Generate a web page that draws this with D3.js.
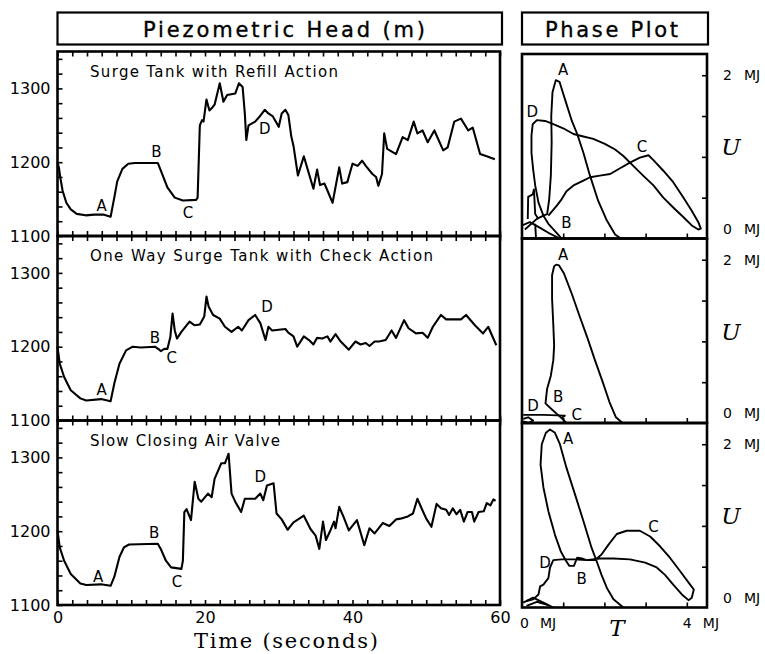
<!DOCTYPE html>
<html><head><meta charset="utf-8">
<script src="https://cdn.jsdelivr.net/npm/d3@7"></script>
<style>body{margin:0;background:#fff}svg{display:block}</style>
</head><body>
<script>
// ---------- DATA ----------
const panelTitles = ["Surge Tank with Refill Action","One Way Surge Tank with Check Action","Slow Closing Air Valve"];
const timeTicks = [0,20,40,60];
const headTicks = [1100,1200,1300];
const headRefill = [[0,1200],[0.2,1192],[0.4,1178],[0.7,1161],[1.2,1145],[1.8,1136],[2.6,1130],[3.8,1128],[5.0,1129],[6.2,1129],[7.2,1126],[7.7,1152],[8.1,1174],[8.8,1191],[9.6,1198],[10.5,1199],[13.6,1199],[14.0,1189],[14.9,1166],[15.9,1152],[17.0,1148],[18.8,1149],[19.0,1152],[19.3,1250],[19.6,1257],[19.8,1255],[20.2,1285],[20.6,1270],[20.9,1273],[21.3,1278],[22.0,1307],[22.5,1282],[23.0,1291],[24.1,1293],[24.6,1307],[25.1,1302],[25.4,1266],[25.6,1230],[25.9,1250],[26.8,1255],[27.5,1263],[28.1,1271],[28.6,1266],[29.2,1262],[30.0,1248],[30.4,1266],[30.9,1271],[31.3,1264],[31.7,1235],[32.0,1222],[32.6,1182],[33.0,1195],[33.4,1208],[33.9,1191],[34.7,1164],[35.2,1190],[35.6,1169],[36.2,1171],[36.5,1164],[37.3,1145],[38.2,1193],[38.6,1171],[39.3,1173],[40.0,1198],[40.7,1195],[41.3,1202],[41.8,1195],[42.7,1184],[43.2,1180],[43.5,1168],[44.0,1184],[44.3,1239],[44.7,1218],[45.9,1211],[46.8,1234],[47.5,1230],[48.3,1255],[48.8,1239],[49.5,1243],[50.2,1227],[51.1,1243],[52.3,1216],[52.9,1220],[53.8,1255],[54.7,1259],[55.7,1243],[56.3,1247],[57.3,1211],[58.2,1208],[59.3,1204]];
const headCheck = [[0,1200],[0.3,1177],[0.9,1159],[1.8,1141],[3.1,1130],[3.9,1127],[5.9,1129],[7.2,1126],[7.7,1150],[8.4,1177],[9.3,1195],[10.2,1200],[11.3,1199],[13.2,1200],[13.8,1196],[14.0,1194],[14.5,1197],[14.9,1197],[15.3,1213],[15.6,1245],[15.9,1222],[16.2,1211],[16.8,1220],[17.9,1234],[18.6,1229],[19.3,1230],[19.9,1241],[20.2,1268],[20.5,1254],[21.1,1243],[22.0,1238],[22.7,1227],[23.6,1220],[24.5,1227],[25.0,1222],[25.9,1236],[26.8,1243],[27.5,1232],[28.2,1209],[28.6,1227],[29.1,1222],[30.0,1223],[30.9,1224],[31.3,1219],[32.0,1214],[32.5,1200],[33.4,1214],[34.1,1209],[34.7,1203],[35.2,1212],[35.9,1211],[36.6,1214],[37.0,1207],[37.7,1217],[38.4,1207],[39.5,1196],[40.4,1207],[41.1,1203],[41.8,1205],[42.3,1201],[43.0,1207],[43.6,1207],[44.5,1209],[45.3,1222],[45.9,1212],[47.0,1236],[47.6,1225],[48.6,1218],[49.5,1219],[50.2,1212],[50.9,1227],[52.0,1243],[52.7,1237],[54.7,1237],[55.4,1243],[56.6,1229],[57.7,1218],[58.4,1227],[59.5,1202]];
const headAirValve = [[0,1201],[0.3,1178],[0.9,1160],[1.8,1142],[3.1,1129],[3.9,1127],[5.9,1128],[7.2,1126],[7.7,1138],[8.4,1165],[9.0,1178],[9.7,1182],[13.6,1183],[14.0,1176],[14.7,1160],[15.4,1151],[16.8,1149],[17.0,1160],[17.2,1226],[17.5,1230],[18.1,1215],[18.6,1267],[19.1,1244],[19.5,1240],[20.4,1251],[20.9,1246],[21.3,1271],[22.2,1292],[22.7,1292],[23.2,1305],[23.6,1251],[24.1,1240],[24.9,1226],[25.4,1244],[26.8,1244],[27.5,1251],[27.9,1242],[28.4,1262],[29.3,1265],[29.7,1224],[30.4,1216],[31.2,1202],[32.0,1212],[33.4,1221],[34.3,1203],[35.0,1194],[35.5,1176],[36.0,1213],[36.4,1188],[37.0,1201],[37.5,1213],[37.7,1204],[38.2,1233],[38.8,1219],[39.5,1201],[40.6,1215],[41.6,1181],[42.3,1204],[43.0,1197],[44.1,1211],[45.0,1207],[45.9,1216],[46.5,1217],[47.5,1220],[48.2,1224],[48.8,1244],[49.5,1228],[50.0,1217],[50.7,1206],[51.4,1237],[52.0,1231],[52.7,1229],[53.1,1222],[53.6,1231],[54.1,1223],[54.6,1229],[55.1,1213],[55.6,1226],[56.2,1226],[56.5,1213],[57.1,1226],[57.8,1227],[58.2,1238],[58.7,1235],[59.1,1243],[59.4,1241]];
const headLabels = [
  [["A",6.0,1142],["B",13.4,1214],["C",17.7,1132],["D",28.1,1245]],
  [["A",6.0,1142],["B",13.2,1213],["C",15.5,1186],["D",28.4,1255]],
  [["A",5.5,1138],["B",13.1,1198],["C",16.2,1132],["D",27.5,1274]]
];
// Phase plot trajectories: [T (MJ), U (MJ)]
const phaseRefill = [
  [[0.07,0.11],[0.36,0.24],[0.52,0.28],[0.61,0.30],[0.66,0.48],[0.70,0.77],[0.72,1.18],[0.71,1.50],[0.74,1.79],[0.82,1.94],[0.91,1.92],[1.04,1.71],[1.21,1.44],[1.34,1.28],[1.49,1.05],[1.65,0.77],[1.85,0.46],[2.06,0.22],[2.26,0.05],[2.40,0]],
  [[0.64,0.28],[0.84,0.40],[0.96,0.48],[1.08,0.58],[1.25,0.65],[1.49,0.71],[1.65,0.75],[1.89,0.77],[2.14,0.79],[2.38,0.86],[2.62,0.93],[2.86,0.99],[3.07,1.02],[3.19,0.96],[3.43,0.83],[3.67,0.69],[3.92,0.50],[4.12,0.34],[4.28,0.20],[4.34,0.12],[4.28,0.11],[4.12,0.16],[3.92,0.26],[3.67,0.38],[3.43,0.50],[3.19,0.65],[2.94,0.77],[2.70,0.89],[2.46,1.01],[2.26,1.09],[2.01,1.16],[1.73,1.22],[1.49,1.25],[1.25,1.28],[1.00,1.35],[0.76,1.40],[0.56,1.44],[0.36,1.45],[0.26,1.40],[0.23,1.26],[0.23,1.05],[0.27,0.85],[0.32,0.65],[0.40,0.44],[0.52,0.28],[0.64,0.18],[0.84,0.07],[0.96,0]],
  [[0.14,0.24],[0.15,0.51],[0.26,0.54],[0.29,0.60],[0.32,0.30],[0.40,0.24]],
  [[0,0.16],[0.19,0.20],[0.44,0.13],[0.64,0.07],[0.92,0]],
  [[0.32,0.18],[0.34,0]]
];
const phaseCheck = [
  [[1.08,0],[0.96,0.06],[0.74,0.16],[0.57,0.24],[0.61,0.42],[0.70,0.58],[0.76,0.77],[0.78,0.95],[0.76,1.20],[0.73,1.52],[0.73,1.81],[0.78,1.92],[0.83,1.94],[0.90,1.93],[1.02,1.83],[1.21,1.58],[1.39,1.32],[1.59,1.04],[1.77,0.77],[1.96,0.50],[2.12,0.26],[2.28,0.07],[2.44,0]],
  [[0.03,0.10],[0.52,0.10],[1.04,0.09],[0.96,0.06]],
  [[0.03,0.05],[0.15,0.07],[0.27,0.03],[0.15,0],[0.03,0.02]]
];
const phaseAirValve = [
  [[2.46,0],[2.22,0.10],[2.06,0.24],[1.93,0.40],[1.81,0.57],[1.69,0.73],[1.49,1.06],[1.29,1.38],[1.08,1.71],[0.92,2.0],[0.80,2.14],[0.68,2.18],[0.58,2.14],[0.48,2.0],[0.45,1.75],[0.52,1.47],[0.64,1.18],[0.80,0.89],[0.94,0.69],[1.07,0.57],[1.15,0.51],[1.26,0.51],[1.34,0.61],[1.45,0.60],[1.57,0.58],[1.77,0.58],[1.93,0.65],[2.10,0.77],[2.30,0.90],[2.54,0.94],[2.86,0.94],[3.11,0.87],[3.35,0.75],[3.59,0.61],[3.83,0.45],[4.08,0.28],[4.17,0.22],[4.12,0.12],[4.04,0.09],[3.88,0.16],[3.67,0.28],[3.47,0.40],[3.27,0.49],[2.99,0.55],[2.62,0.59],[2.22,0.60],[1.89,0.60],[1.57,0.58],[1.25,0.59],[0.96,0.59],[0.76,0.58],[0.68,0.49],[0.64,0.36],[0.52,0.28],[0.44,0.26],[0.40,0.16],[0.27,0.10],[0.11,0.08]],
  [[0.03,0.06],[0.27,0.12],[0.52,0.06],[0.76,0]],
  [[0.11,0.02],[0.36,0.07],[0.64,0.03]]
];
const phaseLabels = [
  [["A",1.00,2.07],["B",1.08,0.20],["C",2.91,1.13],["D",0.25,1.56]],
  [["A",1.00,2.06],["B",0.88,0.33],["C",1.33,0.11],["D",0.27,0.22]],
  [["A",1.12,2.07],["B",1.45,0.35],["C",3.19,0.99],["D",0.56,0.55]]
];
const energyTicks = [0,2];
const heads = [headRefill, headCheck, headAirValve];
const phases = [phaseRefill, phaseCheck, phaseAirValve];

// ---------- DRAW ----------
const W = 765, H = 654;
const svg = d3.select("body").append("svg").attr("width", W).attr("height", H);
const SANS = "'DejaVu Sans', Arial, sans-serif";
const SERIF = "'DejaVu Serif', 'Liberation Serif', serif";

function titleBox(x0, x1, text, tx, tw) {
  svg.append("rect").attr("x", x0).attr("y", 12.5).attr("width", x1 - x0).attr("height", 32)
    .attr("fill", "none").attr("stroke", "#000").attr("stroke-width", 2.2);
  svg.append("text").attr("x", tx).attr("y", 36.5).attr("font-family", SANS).attr("font-size", 21)
    .attr("stroke", "#000").attr("stroke-width", 0.35)
    .attr("textLength", tw).attr("lengthAdjust", "spacing").text(text);
}
titleBox(57.5, 502, "Piezometric Head (m)", 143, 282);
titleBox(522, 708, "Phase Plot", 545, 133);

const PH = 184.5;
const x = d3.scaleLinear().domain([0, 60]).range([57.5, 500]);
const px = d3.scaleLinear().domain([0, 4.49]).range([522, 707]);

heads.forEach((data, i) => {
  const top = 51.5 + i * PH, bot = top + PH;
  const y = d3.scaleLinear().domain([1100, 1350]).range([bot, top]);
  const g = svg.append("g");
  g.append("g").attr("transform", `translate(0,${bot})`)
    .call(d3.axisBottom(x).tickValues(d3.range(0, 61, 2)).tickSize(-5).tickFormat(""))
    .call(a => a.select(".domain").remove());
  g.append("g").attr("transform", `translate(0,${top})`)
    .call(d3.axisTop(x).tickValues(d3.range(0, 61, 2)).tickSize(-5).tickFormat(""))
    .call(a => a.select(".domain").remove());
  g.append("g").attr("transform", `translate(${x(0)},0)`)
    .call(d3.axisLeft(y).tickValues(d3.range(1100, 1351, 20)).tickSize(-5).tickFormat(""))
    .call(a => a.select(".domain").remove());
  g.selectAll(".tick line").attr("stroke", "#000").attr("stroke-width", 1.6);
  g.append("g").attr("transform", `translate(${x(0)},0)`)
    .call(d3.axisLeft(y).tickValues(headTicks).tickSize(0).tickPadding(7).tickFormat(d3.format("d")))
    .call(a => a.select(".domain").remove())
    .selectAll("text").attr("font-family", SANS).attr("font-size", 16).attr("fill", "#000");
  g.append("rect").attr("x", x(0)).attr("y", top).attr("width", x(60) - x(0)).attr("height", PH)
    .attr("fill", "none").attr("stroke", "#000").attr("stroke-width", 2.6);
  g.append("path").datum(data)
    .attr("d", d3.line().x(d => x(d[0])).y(d => y(d[1])))
    .attr("fill", "none").attr("stroke", "#000").attr("stroke-width", 2.1).attr("stroke-linejoin", "round");
  const tl = [248, 343, 190][i];
  g.append("text").attr("x", 90).attr("y", top + 25).attr("font-family", SANS).attr("font-size", 15)
    .attr("textLength", tl).attr("lengthAdjust", "spacing").text(panelTitles[i]);
  g.selectAll("text.pl").data(headLabels[i]).enter().append("text").attr("class", "pl")
    .attr("x", d => x(d[1])).attr("y", d => y(d[2]) + 5.5).attr("text-anchor", "middle")
    .attr("font-family", SANS).attr("font-size", 15).text(d => d[0]);
});

const lastBot = 51.5 + 3 * PH;
svg.append("g").attr("transform", `translate(0,${lastBot})`)
  .call(d3.axisBottom(x).tickValues(timeTicks).tickSize(0).tickPadding(7).tickFormat(d3.format("d")))
  .call(a => a.select(".domain").remove())
  .selectAll("text").attr("font-family", SANS).attr("font-size", 16).attr("fill", "#000");
svg.append("text").attr("x", 286).attr("y", 648).attr("text-anchor", "middle")
  .attr("font-family", SERIF).attr("font-size", 21).attr("textLength", 184).attr("lengthAdjust", "spacing")
  .text("Time (seconds)");

phases.forEach((paths, i) => {
  const top = 54 + i * PH, bot = top + PH;
  const py = d3.scaleLinear().domain([0, 2.26]).range([bot, top]);
  const g = svg.append("g");
  g.append("g").attr("transform", `translate(0,${bot})`)
    .call(d3.axisBottom(px).tickValues([1, 2, 3, 4]).tickSize(-5).tickFormat(""))
    .call(a => a.select(".domain").remove());
  g.append("g").attr("transform", `translate(${px.range()[1]},0)`)
    .call(d3.axisRight(py).tickValues([0.5, 1, 1.5, 2]).tickSize(-5).tickFormat(""))
    .call(a => a.select(".domain").remove());
  g.selectAll(".tick line").attr("stroke", "#000").attr("stroke-width", 1.6);
  const clipId = "clip" + i;
  g.append("clipPath").attr("id", clipId).append("rect")
    .attr("x", px.range()[0]).attr("y", top).attr("width", px.range()[1] - px.range()[0]).attr("height", PH);
  g.append("g").attr("clip-path", `url(#${clipId})`).selectAll("path").data(paths).enter().append("path")
    .attr("d", d3.line().x(d => px(d[0])).y(d => py(d[1])))
    .attr("fill", "none").attr("stroke", "#000").attr("stroke-width", 1.9).attr("stroke-linejoin", "round");
  g.append("rect").attr("x", px.range()[0]).attr("y", top).attr("width", px.range()[1] - px.range()[0]).attr("height", PH)
    .attr("fill", "none").attr("stroke", "#000").attr("stroke-width", 2.6);
  g.selectAll("text.pl").data(phaseLabels[i]).enter().append("text").attr("class", "pl")
    .attr("x", d => px(d[1])).attr("y", d => py(d[2]) + 5.5).attr("text-anchor", "middle")
    .attr("font-family", SANS).attr("font-size", 15).text(d => d[0]);
  energyTicks.forEach(v => {
    const yy = v === 0 ? py(0) - 5 : py(v) + 5;
    g.append("text").attr("x", 723).attr("y", yy).attr("font-family", SANS).attr("font-size", 14).text(v);
    g.append("text").attr("x", 744).attr("y", yy).attr("font-family", SANS).attr("font-size", 14).text("MJ");
  });
  g.append("text").attr("x", 731).attr("y", (top + bot) / 2 + 9).attr("text-anchor", "middle")
    .attr("font-family", SERIF).attr("font-style", "italic").attr("font-size", 23).text("U");
});

[0, 4].forEach(v => {
  svg.append("text").attr("x", px(v) - (v === 0 ? 2 : 4)).attr("y", 628).attr("font-family", SANS).attr("font-size", 14).text(v);
  svg.append("text").attr("x", px(v) + (v === 0 ? 18 : 16)).attr("y", 628).attr("font-family", SANS).attr("font-size", 14).text("MJ");
});
svg.append("text").attr("x", 617).attr("y", 636).attr("text-anchor", "middle")
  .attr("font-family", SERIF).attr("font-style", "italic").attr("font-size", 23).text("T");
</script>
</body></html>
